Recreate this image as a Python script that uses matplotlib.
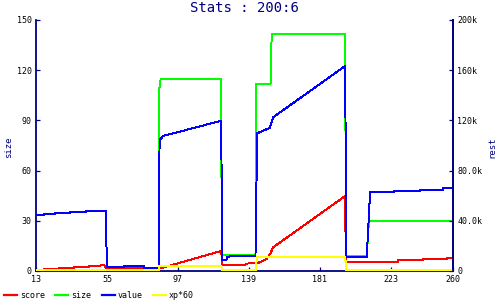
"""Stats chart: size on the left axis, score/value/xp on the right axis."""

import matplotlib

matplotlib.use("Agg")
import matplotlib.pyplot as plt

NAVY = "#000080"
MONO = "DejaVu Sans Mono"

X_TICKS = [13, 55, 97, 139, 181, 223, 260]
SIZE_TICKS = [0, 30, 60, 90, 120, 150]
REST_TICKS = [0, 40000, 80000, 120000, 160000, 200000]
REST_LABELS = ["0", "40.0k", "80.0k", "120k", "160k", "200k"]

# size series (left axis)
SIZE_X = [13, 85.6, 85.8, 86.8, 122.7, 123.0, 143.0, 143.6, 151.9, 152.6,
          196.1, 196.6, 208.9, 210.2, 260]
SIZE_Y = [0, 0, 107, 114.6, 114.6, 9.6, 9.6, 111.8, 111.8, 141.4,
          141.4, 9.0, 9.0, 30, 30]

# score series (right axis)
SCORE_X = [13, 17.8, 17.8, 26.8, 26.8, 35.6, 35.6, 44.5, 44.5, 53.4,
           54.6, 62.3, 62.3, 77.1, 77.1, 85.6, 86.6, 122.7, 123.3, 137.1,
           137.1, 141.1, 144.0, 149.6, 151.9, 153.5, 196.1, 196.5, 227.2, 227.2,
           242.0, 242.0, 256.4, 256.4, 260]
SCORE_Y = [800, 800, 1600, 1600, 2400, 2400, 3200, 3200, 4000, 4500,
           2400, 2400, 2700, 2700, 1600, 1600, 2100, 16000, 4800, 4800,
           5900, 6100, 6100, 9600, 14100, 18900, 59700, 6900, 6900, 8800,
           8800, 9300, 9300, 10100, 10100]

# value series (right axis)
VALUE_X = [13, 17.8, 17.8, 24.3, 24.3, 33.2, 33.2, 42.7, 42.7, 54.2,
           54.6, 55.2, 65.3, 65.3, 77.1, 77.1, 85.6, 86.2, 88.4, 122.7,
           123.3, 125.8, 126.3, 128.2, 143.0, 144.0, 151.4, 153.5, 196.1, 196.9,
           208.9, 210.9, 225.2, 225.2, 240.6, 240.6, 254.2, 254.2, 260]
VALUE_Y = [44700, 44700, 45500, 45500, 46300, 46300, 47100, 47100, 47900, 47900,
           25000, 3470, 3470, 4000, 4000, 2400, 2400, 104400, 107600, 119700,
           8800, 8800, 10900, 12000, 12000, 109700, 114000, 122500, 163300, 10900,
           10900, 63200, 63200, 64000, 64000, 64800, 64800, 65900, 65900]

# xp*60 series (right axis)
XP_X = [13, 85.6, 86.2, 122.7, 123.3, 143.0, 144.0, 196.1, 196.9, 260]
XP_Y = [530, 530, 4300, 4300, 530, 530, 11500, 11500, 800, 800]


def style_axis(ax):
    """Navy spines, inward ticks, small mono tick labels."""
    for side in ("left", "right", "bottom"):
        ax.spines[side].set_color(NAVY)
        ax.spines[side].set_linewidth(1.3)
    ax.spines["top"].set_visible(False)
    ax.tick_params(direction="in", length=3, width=0.9, color=NAVY,
                   labelsize=6, labelcolor="black", pad=3)
    for label in ax.get_xticklabels() + ax.get_yticklabels():
        label.set_family(MONO)


fig = plt.figure(figsize=(5, 3), dpi=100)
ax = fig.add_axes([0.072, 0.0967, 0.834, 0.8367])
ax2 = ax.twinx()

lw = 0.7
size_line, = ax.plot(SIZE_X, SIZE_Y, color="#00ff00", lw=lw, antialiased=False)
score_line, = ax2.plot(SCORE_X, SCORE_Y, color="#ff0000", lw=lw, antialiased=False)
value_line, = ax2.plot(VALUE_X, VALUE_Y, color="#0000ff", lw=lw, antialiased=False)
xp_line, = ax2.plot(XP_X, XP_Y, color="#ffff00", lw=lw, antialiased=False)

ax.set_xlim(13, 260)
ax.set_ylim(0, 150)
ax2.set_ylim(0, 200000)
ax.set_xticks(X_TICKS)
ax.set_xticklabels([str(t) for t in X_TICKS])
ax.set_yticks(SIZE_TICKS)
ax.set_yticklabels([str(t) for t in SIZE_TICKS])
ax2.set_yticks(REST_TICKS)
ax2.set_yticklabels(REST_LABELS)
style_axis(ax)
style_axis(ax2)
ax2.spines["left"].set_visible(False)
ax2.spines["bottom"].set_visible(False)

fig.text(0.489, 1 - 8.5 / 300, "Stats : 200:6", ha="center", va="center",
         fontsize=10, color=NAVY, family=MONO)
fig.text(9 / 500, 1 - 147 / 300, "size", rotation=90, ha="center",
         va="center", fontsize=6.5, color=NAVY, family=MONO)
fig.text(492 / 500, 1 - 147 / 300, "rest", rotation=90, ha="center",
         va="center", fontsize=6.5, color=NAVY, family=MONO)

leg = fig.legend(
    [score_line, size_line, value_line, xp_line],
    ["score", "size", "value", "xp*60"],
    loc="center left", bbox_to_anchor=(4 / 500, 5 / 300), ncol=4,
    frameon=False, borderpad=0, borderaxespad=0, handlelength=1.56,
    handletextpad=0.35, columnspacing=1.25, prop={"family": MONO, "size": 6},
)
for h in leg.get_lines():
    h.set_linewidth(1.6)

fig.savefig("out.png", dpi=100)
